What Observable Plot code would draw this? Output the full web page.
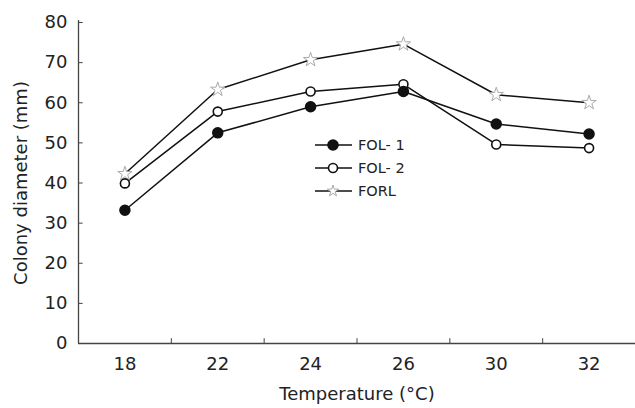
<!DOCTYPE html>
<html>
<head>
<meta charset="utf-8">
<script src="https://cdn.jsdelivr.net/npm/d3@7"></script>
<script src="https://cdn.jsdelivr.net/npm/@observablehq/plot@0.6"></script>
<style>
  html, body { margin: 0; padding: 0; background: #fff; }
  #wrap { position: relative; width: 635px; height: 408px; }
  #legend { position: absolute; left: 0; top: 0; }
</style>
</head>
<body>
<div id="wrap"></div>
<script>
const temps = ["18", "22", "24", "26", "30", "32"];
const fol1 = [33.2, 52.5, 59.0, 62.8, 54.7, 52.2];
const fol2 = [39.9, 57.8, 62.8, 64.6, 49.6, 48.7];
const forl = [42.3, 63.3, 70.7, 74.6, 62.0, 60.0];
const yTicks = [0, 10, 20, 30, 40, 50, 60, 70, 80];
const seriesNames = ["FOL- 1", "FOL- 2", "FORL"];

const idx = temps.map((_, i) => i);
const mids = temps.slice(1).map((_, i) => i + 0.5);
const rows = (vals) => vals.map((v, i) => ({i, v}));
const FONT = "DejaVu Sans, Liberation Sans, sans-serif";

const chart = Plot.plot({
  width: 635,
  height: 408,
  marginLeft: 78,
  marginRight: 0,
  marginTop: 22,
  marginBottom: 65,
  x: {domain: [-0.5, 5.5]},
  y: {domain: [0, 80]},
  style: {fontFamily: FONT, fontSize: "18px", background: "white", color: "#222"},
  marks: [
    Plot.axisY(yTicks, {tickSize: 0, tickPadding: 11, label: "Colony diameter (mm)", labelAnchor: "center", labelOffset: 64, labelArrow: "none", fontSize: 18}),
    Plot.axisX(idx, {tickFormat: i => temps[i], tickSize: 0, tickPadding: 14, label: "Temperature (°C)", labelAnchor: "center", labelOffset: 56, labelArrow: "none", fontSize: 18}),
    Plot.ruleY([0], {stroke: "#444", strokeWidth: 1.3}),
    Plot.ruleX([-0.5], {y1: 0, y2: 80.5, stroke: "#444", strokeWidth: 1.3}),
    Plot.ruleY(yTicks.slice(1), {x1: -0.5, x2: -0.45, stroke: "#444"}),
    Plot.ruleX(mids, {y1: 0, y2: 1.2, stroke: "#444"}),
    Plot.line(rows(forl), {x: "i", y: "v", stroke: "#111", strokeWidth: 1.5}),
    Plot.line(rows(fol2), {x: "i", y: "v", stroke: "#111", strokeWidth: 1.5}),
    Plot.line(rows(fol1), {x: "i", y: "v", stroke: "#111", strokeWidth: 1.5}),
    Plot.dot(rows(forl), {x: "i", y: "v", r: 4.5, symbol: "star", fill: "white", stroke: "#aaa", strokeWidth: 1}),
    Plot.dot(rows(fol2), {x: "i", y: "v", r: 4.5, fill: "white", stroke: "#111", strokeWidth: 1.6}),
    Plot.dot(rows(fol1), {x: "i", y: "v", r: 5, fill: "#111", stroke: "#111"})
  ]
});
document.getElementById("wrap").appendChild(chart);

// legend overlay
const leg = d3.select("#wrap").append("svg")
  .attr("id", "legend").attr("width", 635).attr("height", 408)
  .style("font-family", FONT);
const styles = [
  {fill: "#111", stroke: "#111", sym: "circle", r: 5},
  {fill: "white", stroke: "#111", sym: "circle", r: 4.5},
  {fill: "white", stroke: "#aaa", sym: "star", r: 4.5}
];
seriesNames.forEach((name, k) => {
  const y = 145 + k * 23;
  const g = leg.append("g").attr("transform", `translate(0,${y})`);
  g.append("line").attr("x1", 315).attr("x2", 352).attr("stroke", "#111").attr("stroke-width", 1.5);
  const s = styles[k];
  if (s.sym === "circle") {
    g.append("circle").attr("cx", 333).attr("r", s.r).attr("fill", s.fill).attr("stroke", s.stroke).attr("stroke-width", 1.6);
  } else {
    g.append("path").attr("transform", "translate(333,0)")
      .attr("d", d3.symbol(d3.symbolStar, 40)()).attr("fill", s.fill).attr("stroke", s.stroke);
  }
  g.append("text").attr("x", 358).attr("dy", "0.35em").attr("font-size", 14.5).attr("fill", "#222").text(name);
});
</script>
</body>
</html>
